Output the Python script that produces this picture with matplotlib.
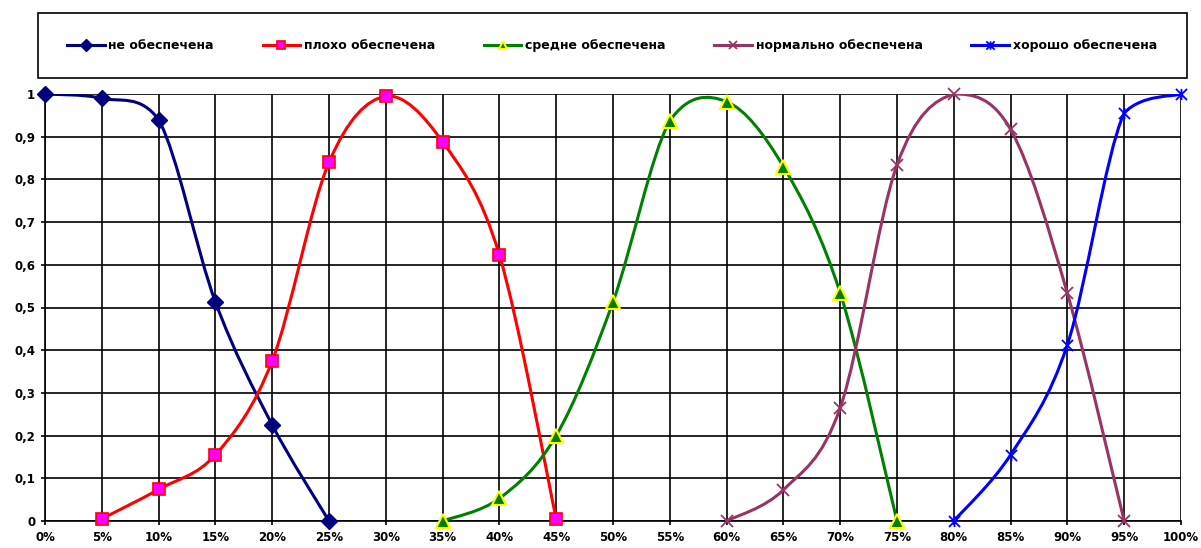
import numpy as np
import matplotlib
matplotlib.use("Agg")
import matplotlib.pyplot as plt
from matplotlib.path import Path
from matplotlib.patches import PathPatch, Rectangle

plt.rcParams['font.family'] = ['DejaVu Sans']
plt.rcParams['font.weight'] = 'bold'

# обеспеченность, %
x_ne = [0, 5, 10, 15, 20, 25]
y_ne = [1.0, 0.99, 0.94, 0.513, 0.225, 0.0]

x_ploho = [5, 10, 15, 20, 25, 30, 35, 40, 45]
y_ploho = [0.005, 0.074, 0.155, 0.375, 0.84, 0.995, 0.888, 0.623, 0.005]

x_sredne = [35, 40, 45, 50, 55, 60, 65, 70, 75]
y_sredne = [0.0, 0.053, 0.20, 0.513, 0.937, 0.982, 0.83, 0.534, 0.0]

x_norm = [60, 65, 70, 75, 80, 85, 90, 95]
y_norm = [0.0, 0.073, 0.265, 0.834, 1.0, 0.917, 0.533, 0.0]

x_horosho = [80, 85, 90, 95, 100]
y_horosho = [0.0, 0.155, 0.413, 0.956, 1.0]

labels = ["не обеспечена", "плохо обеспечена", "средне обеспечена",
          "нормально обеспечена", "хорошо обеспечена"]

x_ticks = list(range(0, 101, 5))
y_ticks = [0, 0.1, 0.2, 0.3, 0.4, 0.5, 0.6, 0.7, 0.8, 0.9, 1.0]
y_ticklabels = ["0", "0,1", "0,2", "0,3", "0,4", "0,5", "0,6", "0,7", "0,8", "0,9", "1"]

# звёздочка: косой крест + вертикаль
star = Path([(-1, -1), (1, 1), (-1, 1), (1, -1), (0, -1), (0, 1)],
            [Path.MOVETO, Path.LINETO, Path.MOVETO, Path.LINETO, Path.MOVETO, Path.LINETO])

series = [
    (x_ne, y_ne, dict(color='#000080', marker='D', ms=8, mfc='#000080', mec='#000080')),
    (x_ploho, y_ploho, dict(color='#FF0000', marker='s', ms=9, mfc='#FF00FF', mec='#FF0000', mew=1.2)),
    (x_sredne, y_sredne, dict(color='#008000', marker='^', ms=10, mfc='#008000', mec='#FFFF00', mew=1.5)),
    (x_norm, y_norm, dict(color='#993366', marker='x', ms=8, mfc='#993366', mec='#993366', mew=1.3)),
    (x_horosho, y_horosho, dict(color='#0000FF', marker=star, ms=8, mfc='#0000FF', mec='#0000FF', mew=1.3)),
]


def smooth_path(xs, ys, lo=0.0, hi=1.0):
    # сглаженная линия: кубические Безье через точки, опорные точки не выходят за [lo, hi]
    pts = np.column_stack([xs, ys]).astype(float)
    n = len(pts)
    verts = [pts[0]]
    codes = [Path.MOVETO]
    for i in range(n - 1):
        p0 = pts[max(i - 1, 0)]
        p1 = pts[i]
        p2 = pts[i + 1]
        p3 = pts[min(i + 2, n - 1)]
        c1 = p1 + (p2 - p0) / 6.0
        c2 = p2 - (p3 - p1) / 6.0
        c1[1] = min(max(c1[1], lo), hi)
        c2[1] = min(max(c2[1], lo), hi)
        verts += [c1, c2, p2]
        codes += [Path.CURVE4] * 3
    return Path(verts, codes)


fig = plt.figure(figsize=(12.01, 5.48), dpi=100)
ax = fig.add_axes([45 / 1201, 27 / 548, 1136 / 1201, 427 / 548])

ax.set_xlim(0, 100)
ax.set_ylim(0, 1)
ax.set_xticks(x_ticks)
ax.set_xticklabels([f"{t}%" for t in x_ticks])
ax.set_yticks(y_ticks)
ax.set_yticklabels(y_ticklabels)
ax.tick_params(axis='both', labelsize=8.5, length=3, width=1.2, color='black', direction='out')
ax.tick_params(axis='x', pad=4)
ax.tick_params(axis='y', pad=4)
for lab in ax.get_xticklabels() + ax.get_yticklabels():
    lab.set_fontweight('bold')

ax.grid(True, color='black', linewidth=1.2)
ax.set_axisbelow(True)
for side in ['top', 'right']:
    ax.spines[side].set_visible(False)
for side in ['left', 'bottom']:
    ax.spines[side].set_linewidth(1.2)

handles = []
for xs, ys, st in series:
    patch = PathPatch(smooth_path(xs, ys), facecolor='none', edgecolor=st['color'],
                      linewidth=2.2, capstyle='round', joinstyle='round', zorder=3)
    ax.add_patch(patch)
    ax.plot(xs, ys, linestyle='none', clip_on=False, zorder=4,
            **{k: v for k, v in st.items() if k != 'color'})
    h, = ax.plot([], [], color=st['color'], linewidth=2.2,
                 **{k: v for k, v in st.items() if k not in ('color', 'ms')}, ms=6)
    handles.append(h)

# рамка легенды
fig.add_artist(Rectangle((38 / 1201, 1 - 78 / 548), 1149 / 1201, 65 / 548,
                         transform=fig.transFigure, facecolor='white',
                         edgecolor='black', linewidth=1.2))
fig.legend(handles, labels, loc='center', bbox_to_anchor=(612 / 1201, 1 - 45.5 / 548),
           ncol=5, frameon=False, prop=dict(size=9, weight='bold'),
           handlelength=3.0, handletextpad=0.3, columnspacing=3.9, markerscale=1.0)

fig.savefig("out.png", dpi=100)
